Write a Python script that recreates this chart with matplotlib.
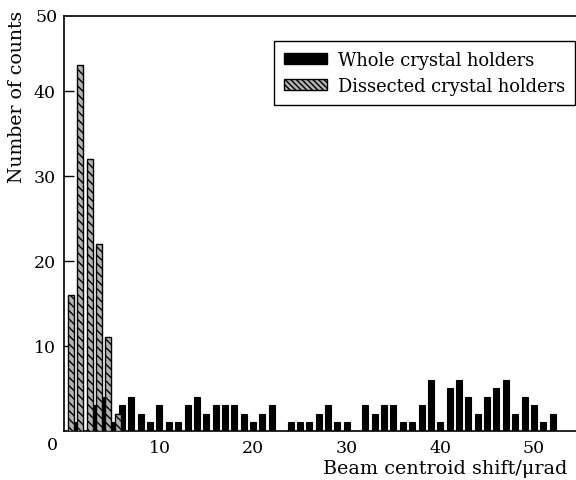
import matplotlib
matplotlib.use("Agg")
import matplotlib.pyplot as plt
from matplotlib.patches import Patch
import numpy as np

plt.rcParams['font.family'] = ['DejaVu Serif']
plt.rcParams['hatch.linewidth'] = 1.0

# Histogram bins of beam centroid shift (µrad)
whole_bins = list(range(1, 53))
whole_counts = [1, 0, 3, 4, 1, 3, 4, 2, 1, 3,
                1, 1, 3, 4, 2, 3, 3, 3, 2, 1,
                2, 3, 0, 1, 1, 1, 2, 3, 1, 1,
                0, 3, 2, 3, 3, 1, 1, 3, 6, 1,
                5, 6, 4, 2, 4, 5, 6, 2, 4, 3,
                1, 2]
dissected_bins = [1, 2, 3, 4, 5, 6]
dissected_counts = [16, 43, 32, 22, 11, 2]

x_ticks = [10, 20, 30, 40, 50]
y_ticks = [10, 20, 30, 40]

fig = plt.figure(figsize=(5.76, 4.81), dpi=100)
ax = fig.add_axes([64 / 576, 49 / 481, 512 / 576, 415 / 481])

bar_w = 0.64
ax.bar(np.array(whole_bins), whole_counts, width=bar_w,
       color='black', edgecolor='black', linewidth=0.8, zorder=2)
ax.bar(np.array(dissected_bins) - 0.47, dissected_counts, width=bar_w,
       color='#b3b3b3', edgecolor='black', linewidth=1.0,
       hatch='\\\\\\\\', zorder=3)

ax.set_xlim(-0.2, 54.5)
ax.set_ylim(0, 48.8)
ax.set_xticks(x_ticks)
ax.set_xticklabels([str(t) for t in x_ticks])
ax.set_yticks(y_ticks)
ax.set_yticklabels([str(t) for t in y_ticks])
ax.tick_params(axis='x', length=0, pad=5.5, labelsize=12.5)
ax.tick_params(axis='y', direction='in', length=7, width=1.0, pad=6,
               labelsize=12.5)
ax.spines['right'].set_visible(False)
for s in ('left', 'bottom', 'top'):
    ax.spines[s].set_linewidth(1.2)

# corner labels for the origin and the top of the count axis
ax.text(-12 / 512, -14 / 415, '0', transform=ax.transAxes,
        ha='center', va='center', fontsize=12.5)
ax.text(-6 / 512, 1.0, '50', transform=ax.transAxes,
        ha='right', va='center', fontsize=12.5)

ax.set_xlabel('Beam centroid shift/\u03bcrad', fontsize=13.8,
              ha='right', va='center')
ax.xaxis.set_label_coords(0.984, -0.09)
ax.set_ylabel('Number of counts', fontsize=13.6, va='center')
ax.yaxis.set_label_coords(-0.092, 0.807)

handles = [Patch(facecolor='black', edgecolor='black'),
           Patch(facecolor='#b3b3b3', edgecolor='black', hatch='\\\\\\\\\\\\')]
leg = ax.legend(handles, ['Whole crystal holders', 'Dissected crystal holders'],
                loc='upper right', bbox_to_anchor=(0.998, 0.94),
                fontsize=12.9, frameon=True, fancybox=False, framealpha=1,
                edgecolor='black', handlelength=2.4, handleheight=0.5,
                handletextpad=0.6, borderpad=0.55, labelspacing=0.45,
                borderaxespad=0)
leg.get_frame().set_linewidth(1.0)

fig.savefig('out.png', dpi=100)
